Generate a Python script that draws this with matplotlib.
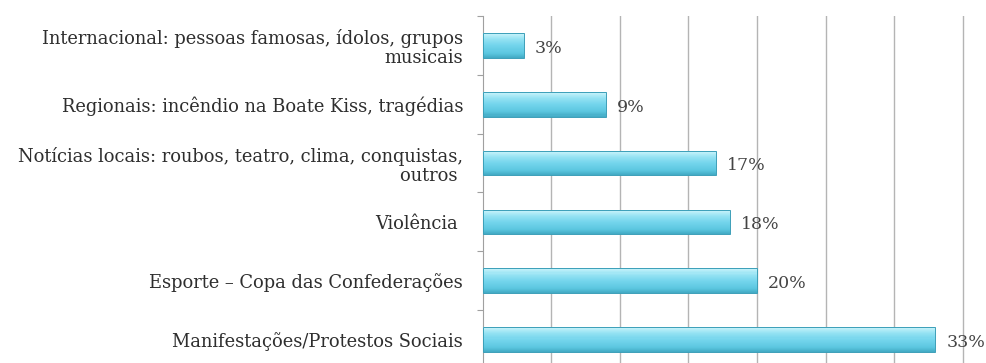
import matplotlib.pyplot as plt
import numpy as np
from matplotlib.colors import to_rgb

categories = [
    "Internacional: pessoas famosas, ídolos, grupos\nmusicais",
    "Regionais: incêndio na Boate Kiss, tragédias",
    "Notícias locais: roubos, teatro, clima, conquistas,\noutros ",
    "Violência ",
    "Esporte – Copa das Confederações",
    "Manifestações/Protestos Sociais",
]
values = [3, 9, 17, 18, 20, 33]
value_labels = ["3%", "9%", "17%", "18%", "20%", "33%"]
grid_steps = [5, 10, 15, 20, 25, 30, 35]

plt.rcParams["font.family"] = ["DejaVu Serif"]

fig = plt.figure(figsize=(9.87, 3.63), dpi=100)
ax = fig.add_axes([0.489, -0.0165, 0.4933, 0.9725])

y = np.arange(len(categories))
bar_h = 0.42

# glossy bar: stack of thin bands from light top to darker bottom
stops = [(0.0, "#cdf5fb"), (0.25, "#95e2f3"), (0.5, "#74d5ec"), (0.8, "#5cc7e0"), (1.0, "#41a9c3")]
n_bands = 24
for i in range(n_bands):
    t = (i + 0.5) / n_bands
    for (t0, c0), (t1, c1) in zip(stops[:-1], stops[1:]):
        if t0 <= t <= t1:
            f = (t - t0) / (t1 - t0)
            col = (1 - f) * np.array(to_rgb(c0)) + f * np.array(to_rgb(c1))
            break
    offset = -bar_h / 2 + (i + 0.5) * bar_h / n_bands
    ax.barh(y + offset, values, height=bar_h / n_bands * 1.05, color=col, linewidth=0, zorder=3)
ax.barh(y, values, height=bar_h, fill=False, edgecolor="#3b9fb8", linewidth=0.7, zorder=4)

for yi, v, lab in zip(y, values, value_labels):
    ax.annotate(lab, (v, yi), xytext=(8, -2), textcoords="offset points",
                va="center", ha="left", fontsize=12.5, color="#444444")

ax.set_xlim(0, 35.5)
ax.set_ylim(len(categories) - 0.5, -0.5)
ax.set_xticks(grid_steps)
ax.tick_params(axis="x", length=0, labelbottom=False)
ax.xaxis.grid(True, color="#b4b4b4", linewidth=1.0)
ax.set_axisbelow(True)

ax.set_yticks(np.arange(len(categories) + 1) - 0.5)
ax.set_yticklabels([])
ax.set_yticks(y, minor=True)
ax.set_yticklabels(categories, minor=True, fontsize=12.9, color="#2e2e2e", linespacing=1.1)
ax.tick_params(axis="y", which="major", length=4, color="#a0a0a0", direction="out")
ax.tick_params(axis="y", which="minor", length=0, pad=14)

for side in ["top", "right", "bottom"]:
    ax.spines[side].set_visible(False)
ax.spines["left"].set_color("#a0a0a0")

fig.savefig("out.png", dpi=100)
